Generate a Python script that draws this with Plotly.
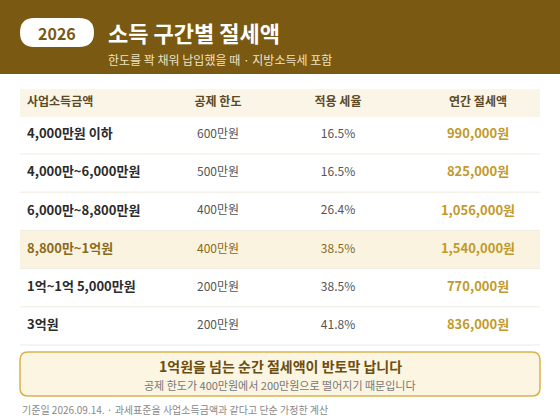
import plotly.graph_objects as go

# Data
columns = ["사업소득금액", "공제 한도", "적용 세율", "연간 절세액"]
income = ["4,000만원 이하", "4,000만~6,000만원", "6,000만~8,800만원", "8,800만~1억원", "1억~1억 5,000만원", "3억원"]
limit = ["600만원", "500만원", "400만원", "400만원", "200만원", "200만원"]
rate = ["16.5%", "16.5%", "26.4%", "38.5%", "38.5%", "41.8%"]
saving = ["990,000원", "825,000원", "1,056,000원", "1,540,000원", "770,000원", "836,000원"]
highlight = 3

brown = "#7A5912"
gold = "#C29A2A"
dark = "#2B2B2B"
font = "Noto Sans CJK KR"

row_y = [135 + 38.2 * i for i in range(len(income))]
col_x = [27, 218, 338, 478]

fig = go.Figure()

shapes = [
    dict(type="rect", x0=0, x1=560, y0=0, y1=74, fillcolor=brown, line_width=0, layer="below"),
    dict(type="path", path="M 34 18 L 79 18 Q 94 18 94 32.5 Q 94 47 79 47 L 34 47 Q 20 47 20 32.5 Q 20 18 34 18 Z",
         fillcolor="white", line_width=0),
    dict(type="rect", x0=20, x1=540, y0=89, y1=117, fillcolor="#FAF5E6", line_width=0, layer="below"),
    dict(type="rect", x0=20, x1=540, y0=row_y[highlight] - 19, y1=row_y[highlight] + 19,
         fillcolor="#FAF3DF", line_width=0, layer="below"),
    dict(type="path", path="M 28 352 L 532 352 Q 540 352 540 360 L 540 388 Q 540 396 532 396 L 28 396 Q 20 396 20 388 L 20 360 Q 20 352 28 352 Z",
         fillcolor="#FBF5E2", line=dict(color="#D9B24A", width=1.5)),
]
for y in row_y:
    shapes.append(dict(type="line", x0=20, x1=540, y0=y + 19, y1=y + 19, line=dict(color="#EFEBE2", width=1)))

# header texts
fig.add_trace(go.Scatter(x=col_x, y=[103] * 4, mode="text", text=[f"<b>{c}</b>" for c in columns],
                         textposition=["middle right", "middle center", "middle center", "middle center"],
                         textfont=dict(family=font, size=12, color="#5A4A2A"), hoverinfo="skip"))

for ci, vals in enumerate([income, limit, rate, saving]):
    colors = []
    texts = []
    for ri, v in enumerate(vals):
        if ci == 3:
            colors.append(gold)
            texts.append(f"<b>{v}</b>")
        elif ri == highlight:
            colors.append("#8A6A1E")
            texts.append(f"<b>{v}</b>" if ci == 0 else v)
        else:
            colors.append(dark if ci == 0 else "#555555")
            texts.append(f"<b>{v}</b>" if ci == 0 else v)
    fig.add_trace(go.Scatter(x=[col_x[ci]] * len(vals), y=row_y, mode="text", text=texts,
                             textposition="middle right" if ci == 0 else "middle center",
                             textfont=dict(family=font, size=13 if ci in (0, 3) else 12, color=colors),
                             hoverinfo="skip"))

annotations = [
    dict(x=57, y=33, text="<b>2026</b>", font=dict(family=font, size=16, color=brown)),
    dict(x=106, y=32, text="<b>소득 구간별 절세액</b>", xanchor="left", font=dict(family=font, size=22, color="white")),
    dict(x=106, y=59, text="한도를 꽉 채워 납입했을 때 · 지방소득세 포함", xanchor="left",
         font=dict(family=font, size=12, color="#EFE3C2")),
    dict(x=280, y=366, text="<b>1억원을 넘는 순간 절세액이 반토막 납니다</b>", font=dict(family=font, size=14, color="#6B4E10")),
    dict(x=280, y=385, text="공제 한도가 400만원에서 200만원으로 떨어지기 때문입니다", font=dict(family=font, size=11, color="#777777")),
    dict(x=20, y=409, text="기준일 2026.09.14. · 과세표준을 사업소득금액과 같다고 단순 가정한 계산", xanchor="left",
         font=dict(family=font, size=10, color="#888888")),
]
for a in annotations:
    a.update(xref="x", yref="y", showarrow=False)

fig.update_layout(
    width=560, height=420, margin=dict(l=0, r=0, t=0, b=0),
    paper_bgcolor="white", plot_bgcolor="white", showlegend=False,
    xaxis=dict(range=[0, 560], visible=False, fixedrange=True),
    yaxis=dict(range=[420, 0], visible=False, fixedrange=True),
    shapes=shapes, annotations=annotations,
)

fig.write_html("out.html", post_script="document.body.style.margin='0';", config={"displayModeBar": False})
